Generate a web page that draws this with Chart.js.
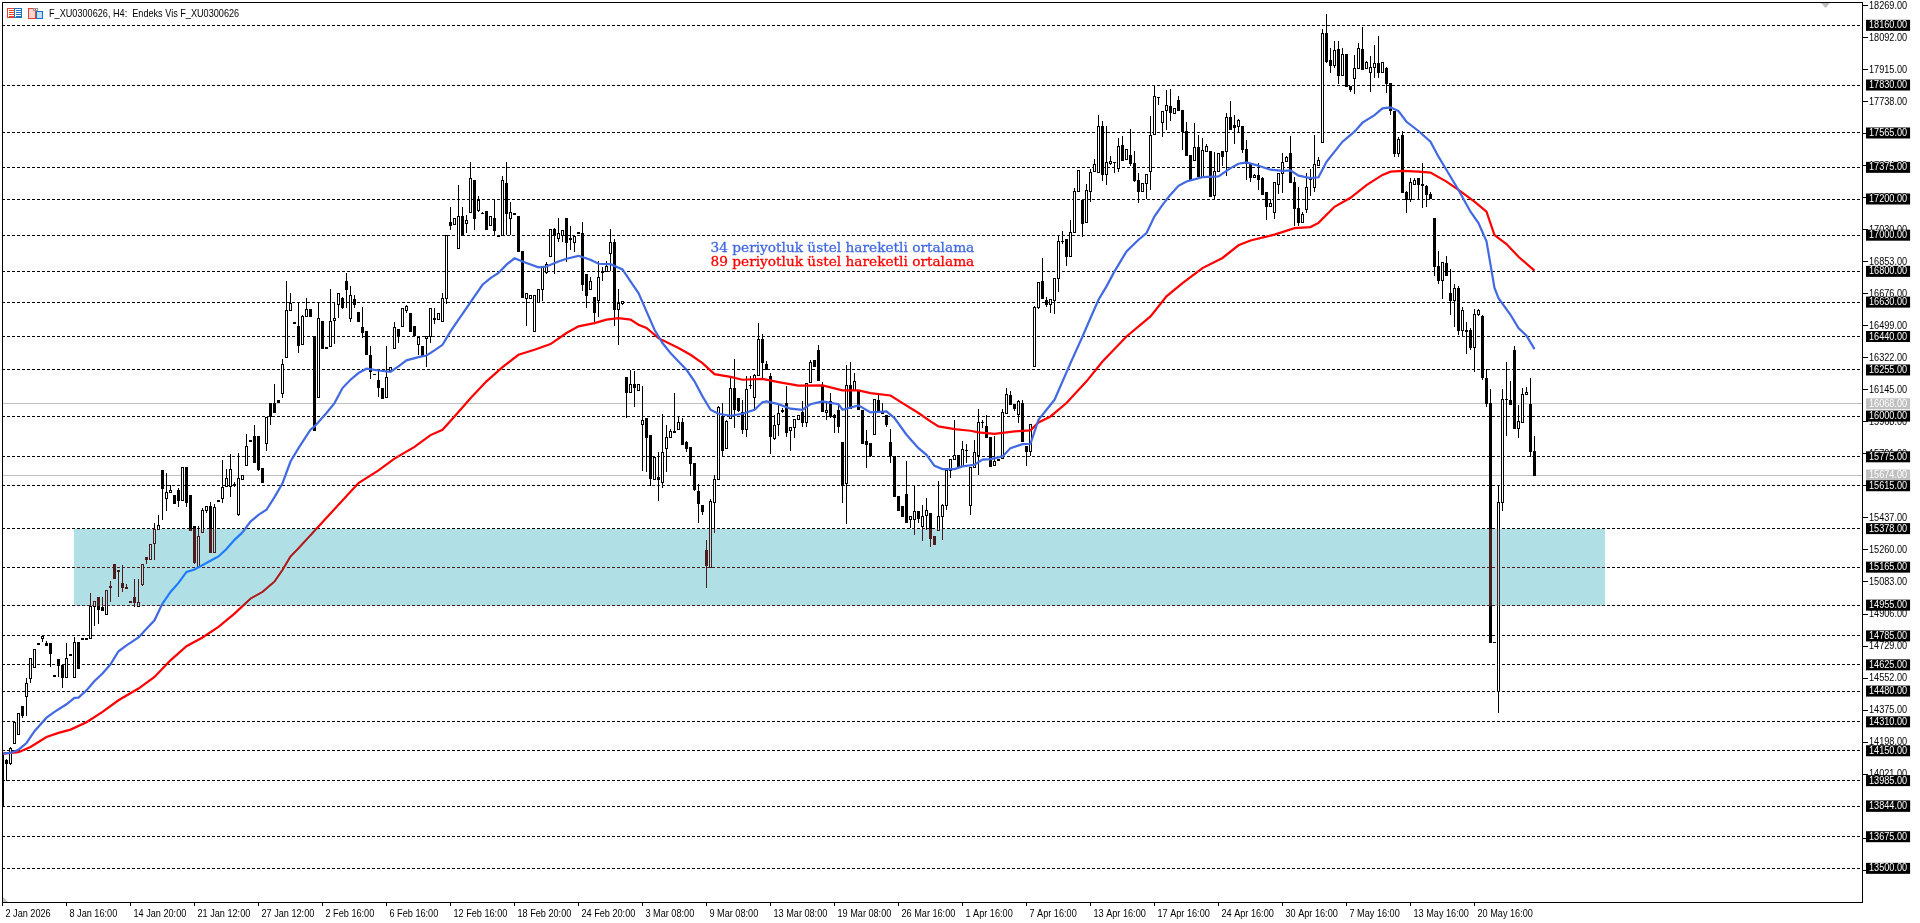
<!DOCTYPE html>
<html>
<head>
<meta charset="utf-8">
<title>F_XU0300626, H4</title>
<script src="https://cdn.jsdelivr.net/npm/chart.js@4"></script>
<style>
  html, body { margin: 0; padding: 0; background: #fff; }
  canvas { display: block; }
</style>
</head>
<body>
<canvas id="chart" width="1920" height="923"></canvas>
<script>
// Four-hour candles, sixteen bars per row.
const opens = [
14135,14100,14080,14195,14245,14395,14450,14550,14615,14745,14775,14745,14745,14570,14660,14625,
14560,14685,14555,14750,14775,14775,14775,14950,15000,14945,14905,15055,15180,15150,15080,15055,
14980,15000,14950,15070,15220,15210,15300,15378,15700,15545,15580,15565,15590,15535,15720,15565,
15390,15170,15360,15480,15505,15250,15535,15545,15615,15615,15625,15460,15655,15730,15870,15890,
15890,15715,15850,16075,16070,16090,16125,16325,16585,16520,16500,16400,16555,16590,16440,16105,
16525,16380,16385,16530,16620,16655,16745,16540,16650,16575,16490,16470,16335,16235,16200,16155,
16105,16255,16375,16480,16500,16585,16570,16500,16400,16385,16430,16440,16540,16535,16525,16655,
17075,17060,16930,17105,17070,17130,17305,17140,17125,17135,17055,17095,17000,17000,17290,17095,
17120,17105,16910,16655,16655,16470,16630,16705,16795,16885,17035,16985,17000,17095,16985,16960,
17020,17010,16785,16700,16660,16640,16800,16800,16900,16960,16590,16625,16215,16135,16180,16145,
15955,15990,15895,15650,15665,15635,15825,15885,15915,15930,15965,15855,15830,15740,15585,15510,
15260,15165,15525,15655,15998,15821,15989,16155,16100,16022,15930,16170,16105,16227,16426,16289,
16223,15878,15956,16030,16072,15923,15939,15983,16020,15970,16186,16310,16367,16171,16020,16081,
16007,16035,15856,15630,16170,16146,16146,16035,15860,15850,15900,16090,16022,16004,15856,15781,
15560,15504,15571,15432,15431,15475,15390,15456,15464,15338,15372,15445,15510,15703,15762,15786,
15725,15815,15506,15716,15784,15965,15947,15884,15731,15765,15768,16017,16118,16066,16013,16072,
15832,15805,16278,16603,16748,16643,16621,16640,16763,16968,16979,16883,17015,17242,17196,17071,
17242,17356,17349,17605,17340,17399,17405,17371,17498,17421,17443,17399,17303,17242,17288,17353,
17559,17762,17625,17690,17712,17673,17747,17692,17574,17441,17414,17487,17325,17463,17465,17224,
17353,17467,17463,17653,17607,17602,17605,17476,17399,17320,17330,17318,17240,17159,17126,17285,
17342,17408,17452,17296,17148,17075,17143,17312,17264,17390,17517,18116,17968,17941,18027,17884,
18000,17825,17871,17923,18027,17926,17904,17932,17950,17904,17922,17839,17686,17452,17554,17240,
17198,17281,17314,17283,17274,17226,17095,16831,16750,16846,16680,16640,16708,16474,16477,16474,
16380,16562,16555,16210,16072,14752,14478,15525,16094,16087,16367,15932,15970,16122,16068,15805];

const highs = [
14140,14105,14170,14310,14360,14395,14550,14665,14715,14745,14785,14755,14745,14570,14660,14625,
14745,14685,14780,14750,14775,14775,15020,14980,15000,15000,15040,15090,15185,15150,15175,15070,
14980,15100,15100,15180,15220,15295,15410,15455,15700,15685,15620,15565,15600,15720,15720,15565,
15390,15390,15490,15505,15525,15515,15535,15755,15705,15790,15635,15795,15675,15900,15870,15950,
15890,15715,15995,16075,16180,16090,16315,16745,16680,16520,16630,16560,16655,16590,16440,16625,
16525,16380,16700,16625,16680,16660,16790,16720,16670,16575,16605,16470,16385,16235,16255,16155,
16390,16270,16520,16480,16600,16615,16570,16500,16440,16390,16445,16600,16600,16570,16680,17000,
17155,17095,17280,17155,17110,17405,17305,17215,17130,17135,17105,17195,17000,17325,17405,17185,
17120,17105,16910,16680,16670,16670,16705,16825,16850,17035,17040,17095,17030,17095,17050,16995,
17020,17075,16785,16770,16660,16855,16825,16855,17035,16980,16700,16635,16215,16255,16250,16180,
16165,15990,15895,15780,15800,16010,15950,15930,16125,16000,15990,15860,15830,15740,15625,15510,
15315,15540,15675,16055,16075,15976,16210,16315,16100,16090,16219,16223,16230,16514,16453,16302,
16238,16007,16072,16044,16164,15942,15985,16005,16081,16184,16311,16312,16392,16190,16081,16127,
16010,16072,15858,16284,16298,16238,16146,16035,15921,15850,16095,16127,16072,16005,15928,15781,
15560,15504,15749,15450,15620,15475,15508,15547,15464,15338,15639,15512,15700,15762,15980,15786,
15860,15847,15718,15869,16040,15976,16007,15884,15888,15765,16039,16155,16136,16068,16090,16090,
15832,15958,16606,16741,16874,16658,16650,16765,16999,17025,16980,17085,17260,17362,17198,17283,
17366,17421,17666,17629,17602,17436,17406,17537,17550,17478,17587,17463,17344,17290,17338,17660,
17830,17765,17686,17804,17810,17705,17771,17694,17624,17443,17620,17556,17537,17506,17466,17458,
17456,17468,17675,17743,17666,17640,17605,17528,17399,17337,17399,17320,17240,17200,17296,17346,
17452,17438,17548,17323,17264,17126,17342,17364,17554,17434,18138,18223,18037,18073,18073,18033,
18002,17827,17996,18064,18149,17961,17990,18051,18101,17957,17932,17841,17688,17545,17578,17242,
17314,17318,17316,17397,17276,17240,17097,16914,16853,16886,16813,16732,16720,16603,16520,16487,
16592,16592,16557,16260,16149,14752,15611,16149,16299,16195,16385,16063,16155,16160,16210,15888];

const lows = [
13840,13985,14070,14195,14245,14330,14340,14525,14615,14740,14750,14735,14615,14565,14555,14495,
14560,14680,14550,14605,14770,14770,14775,14840,14850,14925,14905,14975,15100,15000,15030,15050,
14975,14945,14950,15060,15185,15210,15205,15378,15425,15475,15575,15520,15500,15535,15500,15370,
15180,15170,15355,15465,15250,15250,15530,15520,15610,15555,15610,15450,15655,15730,15865,15745,
15695,15635,15805,15950,16020,16080,16100,16320,16585,16515,16350,16400,16555,16555,15925,16100,
16370,16375,16380,16400,16540,16590,16600,16520,16600,16525,16430,16345,16205,16230,16105,16100,
16100,16250,16375,16405,16495,16570,16470,16440,16335,16335,16270,16405,16510,16530,16525,16620,
17030,17055,16930,17000,17010,17130,17030,17130,17120,17035,17050,17000,16995,17000,17000,17000,
17115,16915,16660,16500,16650,16470,16625,16635,16785,16885,16785,16960,16960,16850,16920,16905,
17010,16690,16600,16700,16520,16545,16745,16795,16800,16500,16395,16615,15990,16135,16050,16145,
15695,15690,15615,15650,15530,15605,15690,15885,15910,15925,15845,15800,15670,15585,15410,15455,
15050,15160,15355,15650,15779,15820,15983,15934,16020,15902,15884,16151,16040,16225,16210,16255,
15790,15870,15888,16017,15884,15805,15878,15982,15939,15939,16185,16270,16200,16024,15980,15989,
15906,15906,15519,15405,16040,16145,16037,15852,15712,15773,15897,16024,16015,15939,15740,15558,
15480,15447,15410,15381,15344,15408,15307,15372,15274,15290,15368,15313,15482,15657,15760,15716,
15725,15740,15454,15715,15676,15934,15880,15718,15729,15760,15765,16015,16065,16026,15961,15860,
15722,15777,16276,16592,16648,16603,16570,16566,16684,16950,16827,16880,17013,17240,16988,17069,
17183,17354,17347,17298,17279,17390,17344,17347,17408,17419,17380,17294,17177,17240,17200,17248,
17555,17718,17541,17580,17629,17670,17688,17469,17439,17298,17412,17322,17322,17460,17211,17192,
17350,17380,17325,17587,17506,17565,17454,17303,17294,17315,17248,17225,17082,17157,17089,17229,
17235,17406,17294,17052,17052,17073,17125,17218,17240,17388,17514,17950,17898,17926,17836,17882,
17823,17793,17780,17921,17915,17924,17793,17871,17871,17902,17784,17664,17434,17434,17238,17121,
17181,17279,17198,17148,17157,17200,16772,16732,16649,16779,16560,16490,16450,16444,16343,16367,
16241,16551,16200,16048,14747,14750,14358,15478,15888,16059,15930,15878,15961,16120,15773,15670];

const closes = [
13845,14085,14165,14310,14360,14350,14525,14665,14715,14740,14785,14735,14690,14565,14625,14560,
14665,14680,14750,14605,14770,14770,14950,14980,14935,14930,15040,15060,15105,15145,15055,15050,
14975,14975,14975,15180,15210,15295,15378,15400,15600,15580,15590,15520,15535,15720,15525,15370,
15195,15335,15480,15505,15250,15500,15530,15610,15660,15705,15620,15660,15675,15835,15865,15745,
15705,15635,15995,16000,16020,16080,16290,16585,16625,16515,16395,16555,16590,16555,15925,16540,
16375,16375,16525,16540,16680,16605,16705,16670,16620,16525,16465,16345,16250,16230,16160,16100,
16215,16270,16490,16450,16595,16610,16470,16450,16435,16335,16445,16600,16535,16570,16655,17000,
17055,17095,17105,17000,17085,17315,17095,17195,17120,17035,17105,17030,16995,17305,17125,17130,
17115,16915,16660,16680,16670,16670,16705,16825,16840,17035,17000,17010,17030,16960,16980,16995,
17010,16730,16670,16745,16575,16770,16795,16830,16960,16590,16625,16635,16135,16175,16160,16180,
15980,15885,15660,15775,15655,15800,15885,15915,15910,15965,15845,15825,15740,15595,15520,15475,
15175,15530,15655,16050,15810,15974,16155,16040,16031,15930,16149,16172,16227,16426,16297,16258,
15888,15950,16017,16032,15910,15939,15983,16004,15970,16182,16299,16275,16201,16026,16035,15998,
15995,15943,15620,16170,16042,16193,16039,15854,15847,15783,16094,16026,16018,15958,15786,15560,
15482,15449,15412,15447,15475,15436,15445,15480,15325,15294,15449,15510,15700,15762,15784,15718,
15818,15812,15716,15801,15969,15967,15882,15722,15753,15760,16022,16122,16068,16044,16085,15860,
15805,15956,16604,16739,16651,16621,16647,16763,16966,16970,16886,17015,17246,17360,17067,17248,
17349,17395,17602,17340,17402,17410,17404,17493,17413,17476,17399,17307,17242,17288,17336,17552,
17767,17762,17684,17719,17681,17703,17690,17574,17441,17303,17487,17325,17469,17493,17218,17353,
17454,17439,17653,17589,17596,17638,17476,17399,17320,17335,17310,17229,17159,17177,17294,17344,
17406,17430,17296,17148,17075,17115,17264,17318,17393,17416,18116,17965,17939,18024,17884,18000,
17825,17810,17923,18033,17919,17955,17932,17950,17904,17955,17839,17692,17452,17530,17240,17198,
17292,17305,17281,17279,17226,17207,16827,16750,16851,16781,16640,16708,16474,16588,16468,16380,
16564,16584,16214,16072,14749,14750,15525,16094,16096,16068,15932,15972,16122,16133,15805,15674];

// Moving averages: bar number and level at each reading.
const ema34Bars = [0,2,4,6,8,11,13,16,18,19,21,23,25,27,29,31,34,36,38,40,42,44,46,48,50,52,54,56,58,60,62,64,66,68,70,72,74,77,78,81,83,85,87,89,91,94,97,99,101,104,106,108,110,112,114,116,118,120,122,124,126,128,131,134,136,139,141,144,147,149,152,155,157,159,161,163,165,167,169,171,173,175,177,179,182,185,188,190,191,194,197,200,202,205,209,210,214,217,221,223,226,229,231,233,235,238,240,243,245,247,250,252,255,257,259,263,267,270,272,274,276,278,281,284,286,288,290,292,294,296,300,304,307,309,311,314,317,320,322,324,327,329,331,335,338,340,343,345,347,349,351,354,357,359,361,364,367,369,371,372,373,374,377,379,381,383];
const ema34Values = [14134,14138,14156,14193,14258,14333,14365,14407,14442,14444,14484,14536,14577,14628,14700,14733,14776,14825,14871,14964,15028,15078,15139,15152,15176,15200,15224,15265,15316,15357,15417,15454,15482,15552,15629,15749,15823,15925,15943,16017,16072,16155,16201,16238,16262,16252,16245,16275,16308,16326,16335,16363,16394,16468,16533,16597,16662,16726,16763,16791,16837,16872,16846,16822,16827,16855,16870,16886,16864,16842,16840,16811,16745,16680,16579,16477,16404,16348,16302,16256,16192,16109,16035,16013,16002,16013,16035,16077,16081,16066,16041,16035,16066,16081,16066,16035,16059,16020,16026,15989,15897,15823,15786,15725,15707,15707,15722,15731,15759,15762,15777,15823,15845,15847,15980,16090,16293,16440,16542,16643,16717,16800,16910,16975,17012,17104,17168,17224,17273,17297,17321,17325,17371,17395,17402,17384,17362,17356,17358,17329,17316,17320,17406,17517,17572,17622,17664,17701,17707,17686,17627,17576,17517,17434,17360,17250,17130,17067,16966,16837,16708,16652,16560,16487,16444,16370];
const ema89Bars = [0,4,7,11,14,17,21,25,29,34,38,42,46,50,54,58,62,65,68,70,72,74,79,84,89,94,98,103,107,110,113,117,121,125,129,133,137,141,144,148,151,154,157,159,161,164,169,172,175,178,182,185,190,194,199,205,210,214,217,222,225,229,232,234,238,242,244,248,253,257,259,262,266,271,275,281,287,291,295,300,305,309,312,318,323,327,329,333,337,341,345,347,350,354,357,361,364,368,371,373,376,379,383];
const ema89Values = [14134,14142,14171,14226,14249,14267,14308,14365,14429,14494,14558,14650,14728,14776,14835,14908,14991,15028,15085,15150,15224,15270,15390,15510,15630,15700,15765,15830,15895,15924,15998,16099,16192,16271,16339,16367,16398,16459,16496,16514,16533,16542,16533,16505,16487,16431,16376,16339,16293,16232,16217,16201,16206,16188,16168,16170,16142,16142,16127,16114,16072,16017,15971,15943,15928,15919,15910,15902,15915,15921,15965,15998,16072,16192,16302,16440,16551,16662,16735,16818,16874,16944,16971,17003,17039,17045,17068,17157,17207,17277,17333,17351,17355,17351,17346,17296,17250,17185,17130,17001,16951,16881,16804];

// Time axis: one label every sixteen bars.
const timeLabels = ["2 Jan 2026","8 Jan 16:00","14 Jan 20:00","21 Jan 12:00","27 Jan 12:00","2 Feb 16:00","6 Feb 16:00","12 Feb 16:00","18 Feb 20:00","24 Feb 20:00","3 Mar 08:00","9 Mar 08:00","13 Mar 08:00","19 Mar 08:00","26 Mar 16:00","1 Apr 16:00","7 Apr 16:00","13 Apr 16:00","17 Apr 16:00","24 Apr 16:00","30 Apr 16:00","7 May 16:00","13 May 16:00","20 May 16:00"];
const barsPerLabel = 16;

// Price axis: regular ticks, horizontal levels and the two solid price lines.
const priceTicks = [18269,18092,17915,17738,17561,17384,17207,17030,16853,16676,16499,16322,16145,15968,15791,15614,15437,15260,15083,14906,14729,14552,14375,14198,14021,13844,13667,13490];
const levelLines = [18160,17830,17565,17375,17200,17000,16800,16630,16440,16255,16000,15775,15615,15378,15165,14955,14785,14625,14480,14310,14150,13985,13844,13675,13500];
const priceLines = [16068,15674];

// Shaded zone, in prices and bar numbers.
const zonePrices = [14955,15378];
const zoneBars = [17.9,400.7];

const legendTexts = ["34 periyotluk üstel hareketli ortalama","89 periyotluk üstel hareketli ortalama"];
const legendPrices = [16908,16831];
const titleText = "F_XU0300626, H4:  Endeks Vis F_XU0300626";

const BLUE = '#4169E1', BLUE_IN_ZONE = '#1E7BFF', RED = '#FF0000', SOFT = '#C0C0C0';
const AXIS_FAMILY = 'Liberation Sans';
const AXIS_FONT = `"${AXIS_FAMILY}", sans-serif`;
const AXIS_CONDENSE = 0.83;
const isLevel = v => levelLines.includes(v);
const isPriceLine = v => priceLines.includes(v);
const inZone = v => v >= zonePrices[0] && v <= zonePrices[1];

const canvas = document.getElementById('chart');

// The axis font is set condensed: widths are reported narrowed to the layout,
// and fillText's own maxWidth argument squeezes the glyphs when drawing.
const drawing = canvas.getContext('2d');
const nativeFill = drawing.fillText;
const nativeMeasure = drawing.measureText;
drawing.measureText = function (text) {
  const m = nativeMeasure.call(this, text);
  return this.font.includes(AXIS_FAMILY) ? { width: m.width * AXIS_CONDENSE } : m;
};
drawing.fillText = function (text, x, y, maxWidth) {
  if (this.font.includes(AXIS_FAMILY)) {
    nativeFill.call(this, text, x, y, nativeMeasure.call(this, text).width * AXIS_CONDENSE);
  } else if (maxWidth === undefined) {
    nativeFill.call(this, text, x, y);
  } else {
    nativeFill.call(this, text, x, y, maxWidth);
  }
};

// Opaque page colour, so the zone blending has something to work on.
const paper = {
  id: 'paper',
  beforeDraw(chart) {
    const { ctx, width, height } = chart;
    ctx.save();
    ctx.fillStyle = '#FFFFFF';
    ctx.fillRect(0, 0, width, height);
    ctx.restore();
  }
};

// Snaps candles and wicks to whole pixel rows so their edges stay sharp.
const pixelSnap = {
  id: 'pixelSnap',
  afterDatasetsUpdate(chart) {
    chart.data.datasets.forEach((ds, i) => {
      if (ds.type === 'line') return;
      chart.getDatasetMeta(i).data.forEach(el => {
        const top = Math.round(Math.min(el.y, el.base));
        const bottom = Math.max(top + 1, Math.round(Math.max(el.y, el.base)) + (ds.label === 'Gövde' ? 1 : 0));
        el.y = top;
        el.base = bottom;
      });
    });
  }
};

// Zone tint: darkens whatever lies beneath it, the way the terminal blends it.
const zoneTint = {
  id: 'zoneTint',
  beforeDatasetDraw(chart, args) {
    if (chart.data.datasets[args.index].label !== 'EMA 34') return;
    const { ctx, scales: { x, y }, chartArea } = chart;
    const left = Math.round(x.getPixelForValue(zoneBars[0]));
    const right = Math.round(x.getPixelForValue(zoneBars[1]));
    const top = Math.round(y.getPixelForValue(zonePrices[1]));
    const bottom = Math.round(y.getPixelForValue(zonePrices[0])) + 1;
    ctx.save();
    ctx.beginPath();
    ctx.rect(chartArea.left, chartArea.top, chartArea.width, chartArea.height);
    ctx.clip();
    ctx.globalCompositeOperation = 'lighter';
    ctx.fillStyle = 'rgb(107,32,31)';
    ctx.fillRect(left, top, right - left, bottom - top);
    ctx.globalCompositeOperation = 'multiply';
    ctx.fillStyle = '#B0E0E6';
    ctx.fillRect(left, top, right - left, bottom - top);
    ctx.restore();
  }
};

// Frame, chart header and the two notes above the averages.
const decorations = {
  id: 'decorations',
  afterDatasetsDraw(chart) {
    const { ctx, scales: { x, y } } = chart;
    ctx.save();
    ctx.font = '13.7px "DejaVu Serif", serif';
    ctx.textBaseline = 'alphabetic';
    ctx.lineWidth = 0.3;
    [BLUE, RED].forEach((colour, i) => {
      const tx = x.getPixelForValue(177);
      const ty = y.getPixelForValue(legendPrices[i]);
      ctx.fillStyle = colour;
      ctx.strokeStyle = colour;
      ctx.fillText(legendTexts[i], tx, ty);
      ctx.strokeText(legendTexts[i], tx, ty);
    });
    ctx.restore();
  },
  afterDraw(chart) {
    const { ctx, chartArea: a } = chart;
    ctx.save();
    ctx.strokeStyle = '#000';
    ctx.lineWidth = 1;
    ctx.strokeRect(a.left + 0.5, a.top + 0.5, a.width, a.height);

    // corner markers
    ctx.fillStyle = SOFT;
    ctx.beginPath(); ctx.moveTo(1821, 3); ctx.lineTo(1830, 3); ctx.lineTo(1825.5, 8); ctx.fill();
    ctx.beginPath(); ctx.moveTo(3, 897); ctx.lineTo(8, 902); ctx.lineTo(3, 902); ctx.fill();

    // header icons
    const px = (c, x, y, w, h) => { ctx.fillStyle = c; ctx.fillRect(x, y, w, h); };
    ctx.lineWidth = 1;
    ctx.strokeStyle = '#E8402F'; ctx.strokeRect(7.5, 8.5, 7, 9);
    ctx.strokeStyle = '#1E6FBF'; ctx.strokeRect(14.5, 8.5, 7, 9);
    [10, 12, 14, 16].forEach(r => { px('#E8402F', 9, r, 5, 1); px('#1E6FBF', 16, r, 5, 1); });
    px('#FBD5CE', 29, 9, 6, 9);
    px('#BFE0F5', 37, 11, 5, 7);
    ctx.strokeStyle = '#E8402F'; ctx.strokeRect(28.5, 8.5, 7, 10);
    ctx.strokeStyle = '#1E6FBF'; ctx.strokeRect(36.5, 11.5, 6, 7);
    ctx.strokeStyle = '#9A9A9A'; ctx.strokeRect(33.5, 8.5, 4, 2);

    ctx.fillStyle = '#000';
    ctx.font = '11px ' + AXIS_FONT;
    ctx.textBaseline = 'middle';
    ctx.fillText(titleText, 49, 13.5);
    ctx.restore();
  }
};

const candleX = opens.map((_, i) => i);
const bodySeries = candleX.map(i => ({ x: i, y: [opens[i], closes[i]] }));
const wickSeries = candleX.map(i => ({ x: i, y: [lows[i], highs[i]] }));
const bodyFills = candleX.map(i => (closes[i] >= opens[i] ? '#FFFFFF' : '#000000'));

new Chart(canvas, {
  type: 'bar',
  data: {
    datasets: [
      {
        label: 'Fitil', data: wickSeries, order: 4, grouped: false,
        backgroundColor: '#000', borderWidth: 0, inflateAmount: 0,
        barPercentage: 0.25, categoryPercentage: 1
      },
      {
        label: 'Gövde', data: bodySeries, order: 3, grouped: false,
        backgroundColor: bodyFills, borderColor: '#000', borderWidth: 1, borderSkipped: false,
        inflateAmount: 0, barPercentage: 0.75, categoryPercentage: 1
      },
      {
        type: 'line', label: 'EMA 89', order: 2,
        data: ema89Bars.map((b, i) => ({ x: b, y: ema89Values[i] })),
        borderColor: RED, borderWidth: 2.2, pointRadius: 0, tension: 0, fill: false
      },
      {
        type: 'line', label: 'EMA 34', order: 1,
        data: ema34Bars.map((b, i) => ({ x: b, y: ema34Values[i] })),
        borderColor: BLUE, borderWidth: 2.2, pointRadius: 0, tension: 0, fill: false,
        segment: { borderColor: c => (inZone(c.p0.parsed.y) && inZone(c.p1.parsed.y) ? BLUE_IN_ZONE : BLUE) }
      }
    ]
  },
  plugins: [paper, pixelSnap, zoneTint, decorations],
  options: {
    responsive: false,
    animation: false,
    events: [],
    devicePixelRatio: 1,
    layout: { padding: { left: 2, top: 2, right: 0, bottom: 0 } },
    plugins: { legend: { display: false }, tooltip: { enabled: false } },
    scales: {
      x: {
        type: 'linear',
        offset: false,
        min: -0.125,
        max: 464.875,
        afterFit(scale) { scale.height = 21; scale.paddingLeft = 0; scale.paddingRight = 0; },
        afterBuildTicks(scale) {
          scale.ticks = timeLabels.map((_, i) => ({ value: i * barsPerLabel }));
        },
        grid: { offset: false, drawOnChartArea: false, color: '#000', tickLength: 4 },
        border: { display: true, color: '#000' },
        ticks: {
          autoSkip: false, maxRotation: 0, minRotation: 0,
          align: 'start', labelOffset: 3, padding: 1,
          color: '#000', font: { family: AXIS_FONT, size: 11 },
          callback: v => timeLabels[v / barsPerLabel]
        }
      },
      y: {
        position: 'right',
        min: 13314,
        max: 18289,
        bounds: 'data',
        afterFit(scale) { scale.width = 58; scale.paddingTop = 0; scale.paddingBottom = 0; },
        // Later entries paint over earlier ones, so the tagged prices sit on top.
        afterBuildTicks(scale) {
          scale.ticks = [...priceTicks, ...priceLines, ...levelLines].map(value => ({ value }));
        },
        grid: {
          lineWidth: 1,
          tickLength: 6,
          color: c => {
            const v = c.tick && c.tick.value;
            return isLevel(v) ? '#000' : isPriceLine(v) ? SOFT : 'rgba(0,0,0,0)';
          },
          tickColor: c => {
            const v = c.tick && c.tick.value;
            return isLevel(v) || isPriceLine(v) ? 'rgba(0,0,0,0)' : '#000';
          }
        },
        border: {
          display: true, color: '#000', width: 1,
          dash: c => (c.tick && isLevel(c.tick.value) ? [3, 2] : [])
        },
        ticks: {
          autoSkip: false, padding: 1,
          font: { family: AXIS_FONT, size: 11, lineHeight: 1 },
          color: c => (isLevel(c.tick.value) || isPriceLine(c.tick.value) ? '#FFF' : '#000'),
          showLabelBackdrop: c => isLevel(c.tick.value) || isPriceLine(c.tick.value),
          backdropColor: c => (isLevel(c.tick.value) ? '#000' : SOFT),
          backdropPadding: { left: 3, right: 3, top: 0, bottom: 0 },
          callback: v => v.toFixed(2)
        }
      }
    }
  }
});
</script>
</body>
</html>
